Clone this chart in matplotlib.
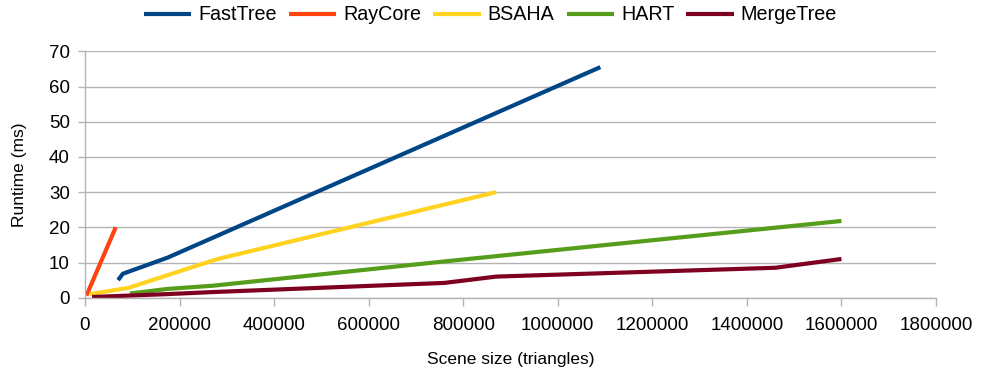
import matplotlib
matplotlib.use("Agg")
import matplotlib.pyplot as plt
from matplotlib.ticker import MultipleLocator, FuncFormatter

plt.rcParams['font.family'] = ['Liberation Sans', 'DejaVu Sans']

# Data (scene size in triangles, runtime in ms)
fasttree_x = [70000, 80000, 175000, 1090000]
fasttree_y = [5.0, 6.8, 11.4, 65.5]

raycore_x = [3000, 65000]
raycore_y = [0.6, 20.0]

bsaha_x = [10000, 92000, 278000, 870000]
bsaha_y = [1.0, 2.8, 10.9, 30.0]

hart_x = [95000, 175000, 270000, 760000, 1600000]
hart_y = [1.2, 2.5, 3.4, 10.3, 21.8]

merge_x = [15000, 170000, 270000, 760000, 870000, 1460000, 1600000]
merge_y = [0.2, 1.0, 1.6, 4.2, 6.0, 8.5, 11.0]

series = [
    ("FastTree", fasttree_x, fasttree_y, "#004586"),
    ("RayCore", raycore_x, raycore_y, "#ff420e"),
    ("BSAHA", bsaha_x, bsaha_y, "#ffd320"),
    ("HART", hart_x, hart_y, "#579d1c"),
    ("MergeTree", merge_x, merge_y, "#7e0021"),
]

fig = plt.figure(figsize=(9.81, 3.70), dpi=100)
ax = fig.add_axes([85/981, 1-297.7/370, (936-85)/981, (297.7-51.3)/370])

for name, xs, ys, c in series:
    ax.plot(xs, ys, color=c, lw=3.0, label=name, solid_capstyle='butt', solid_joinstyle='round')

ax.set_xlim(0, 1800000)
ax.set_ylim(0, 70)
ax.xaxis.set_major_locator(MultipleLocator(200000))
ax.yaxis.set_major_locator(MultipleLocator(10))
ax.xaxis.set_major_formatter(FuncFormatter(lambda v, p: f"{int(round(v))}"))
ax.yaxis.set_major_formatter(FuncFormatter(lambda v, p: f"{int(round(v))}"))

ax.grid(axis='y', color='#b3b3b3', lw=1.0)
ax.set_axisbelow(True)
for s in ['top', 'right']:
    ax.spines[s].set_visible(False)
for s in ['left', 'bottom']:
    ax.spines[s].set_color('#b3b3b3')
    ax.spines[s].set_linewidth(1.0)

ax.tick_params(axis='both', colors='#b3b3b3', labelcolor='black', labelsize=13.5, width=1.0)
ax.tick_params(axis='x', length=6, pad=8)
ax.tick_params(axis='y', length=5, pad=6)

ax.set_xlabel("Scene size (triangles)", fontsize=12.5, labelpad=13)
ax.set_ylabel("Runtime (ms)", fontsize=12.5, labelpad=16)

fig.legend(loc='center', bbox_to_anchor=(0.5, 1-15/370), ncol=5, frameon=False,
           fontsize=14.2, handlelength=2.4, handletextpad=0.35, columnspacing=0.62,
           borderaxespad=0)

fig.savefig("out.png", dpi=100)
